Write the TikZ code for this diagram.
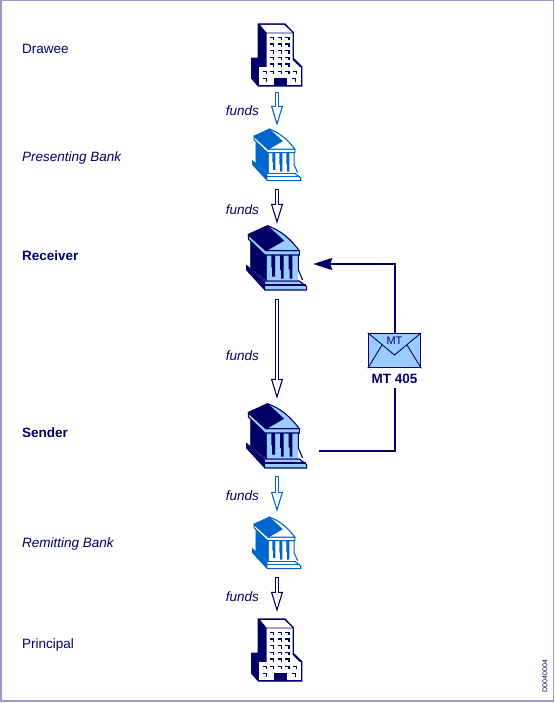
\documentclass[tikz,border=0pt]{standalone}
\usepackage{fontspec}
\setmainfont{Liberation Sans}
\usetikzlibrary{arrows.meta, positioning, calc}
\definecolor{navy}{RGB}{0,0,102}
\definecolor{bankblue}{RGB}{0,102,204}
\definecolor{paleblue}{RGB}{153,204,255}
\definecolor{framecol}{RGB}{153,153,204}
\tikzset{
  party/.style={anchor=west, text=navy, font=\fontsize{13.5}{15}\selectfont, inner sep=0pt},
  fundslabel/.style={anchor=east, text=navy, font=\fontsize{13.5}{15}\selectfont\itshape, inner sep=0pt},
  officebox/.style={minimum width=52pt, minimum height=64pt, inner sep=0pt},
  smallbox/.style={minimum width=50pt, minimum height=52pt, inner sep=0pt},
  largebox/.style={minimum width=84pt, minimum height=66pt, inner sep=0pt},
  msgline/.style={draw=navy, line width=2pt},
  funds/.style={line width=4.5pt, draw=#1, -{Triangle[open, fill=white, length=20pt, width=12pt, line width=1.1pt]},
    postaction={draw=white, line width=2.6pt, -, shorten <=1pt, shorten >=6pt}},
  pics/office/.style={code={
    \begin{scope}[scale=1/3, shift={(-141,-135)}]
      \filldraw[navy, line width=1.2pt] (85,42) -- (165,42) -- (190,68) -- (190,145) -- (215,170) -- (215,228) -- (85,228) -- (65,205) -- (65,145) -- (85,145) -- cycle;
      \fill[white] (91,45) -- (163,45) -- (187,68) -- (110,68) -- cycle;
      \fill[white] (110,70) -- (188,70) -- (188,150) -- (210,172) -- (110,172) -- cycle;
      \fill[white] (88,172) -- (212,172) -- (212,225) -- (88,225) -- cycle;
      \fill[navy] (133,205) rectangle (170,228);
      \foreach \yy in {82,102,122,142,162}
        \foreach \xx in {120,143,166}
          \draw[navy, line width=1.5pt] (\xx,\yy) -- +(11,0) -- +(11,9);
      \foreach \xx in {98,120,143,166,188}
        \draw[navy, line width=1.5pt] (\xx,184) -- +(11,0) -- +(11,9);
      \foreach \xx in {98,186}
        \draw[navy, line width=1.5pt] (\xx,206) -- +(11,0) -- +(11,9);
    \end{scope}
  }},
  pics/bank/.style n args={3}{code={
    \begin{scope}[scale=#3/3, shift={(-141,-234)}]
      \filldraw[fill=#1, draw=#1, line width=.8pt] (62,172) -- (110,222) -- (110,302) -- (62,264) -- cycle;
      \filldraw[fill=#2, draw=#1, line width=1.1pt] (50,257) -- (105,303) -- (208,303) -- (230,320) -- (230,330) -- (105,330) -- (50,270) -- cycle;
      \fill[#1] (50,259) -- (105,306) -- (105,330) -- (50,270) -- cycle;
      \draw[#1, line width=1.1pt] (105,315) -- (228,315);
      \fill[#2] (110,222) rectangle (205,300);
      \fill[#1] (124,225) rectangle (135,262) (126,262) rectangle (135,290);
      \fill[#1] (150,225) rectangle (161,270) (153,270) rectangle (161,296);
      \fill[#1] (176,225) rectangle (187,268) (179,268) rectangle (187,296);
      \draw[#1, line width=1.1pt] (205,225) -- (205,270) -- (218,300);
      \filldraw[fill=#2, draw=#1, line width=1.1pt] (55,165) -- (108,212) -- (208,212) -- (208,225) -- (105,225) -- (55,177) -- cycle;
      \filldraw[fill=#2, draw=#1, line width=1.1pt] (112,137) .. controls (150,150) and (180,175) .. (208,212) -- (108,212) -- cycle;
      \filldraw[fill=#1, draw=#1, line width=.9pt] (55,163) -- (112,137) -- (160,182) -- (108,212) -- cycle;
    \end{scope}
  }},
}
\begin{document}
\begin{tikzpicture}[x=1pt, y=-1pt]
  \useasboundingbox (0,0) rectangle (554,703);
  \draw[framecol, line width=1.5pt] (.75,.75) rectangle (553.25,701);

  % icons
  \node (drawee) [officebox] at (277,55) {};
  \node (presenting) [smallbox] at (277,155) {};
  \node (receiver) [largebox] at (277,258) {};
  \node (sender) [largebox] at (277,436) {};
  \node (remitting) [smallbox] at (277,543) {};
  \node (principal) [officebox] at (277,650) {};
  \pic at (drawee) {office};
  \pic at (presenting) {bank={bankblue}{white}{.8}};
  \pic at (receiver) {bank={navy}{paleblue}{1}};
  \pic at (sender) {bank={navy}{paleblue}{1}};
  \pic at (remitting) {bank={bankblue}{white}{.8}};
  \pic at (principal) {office};

  % left column
  \node (draweetext) [party] at (22,48.5) {Drawee};
  \node (presentingtext) [party, font=\fontsize{13.5}{15}\selectfont\itshape] at (22,158) {Presenting Bank};
  \node (receivertext) [party, font=\fontsize{13.5}{15}\selectfont\bfseries] at (22,256) {Receiver};
  \node (sendertext) [party, font=\fontsize{13.5}{15}\selectfont\bfseries] at (22,433) {Sender};
  \node (remittingtext) [party, font=\fontsize{13.5}{15}\selectfont\itshape] at (22,544.5) {Remitting Bank};
  \node (principaltext) [party] at (22,645.5) {Principal};

  % funds
  \draw [funds=bankblue] ([yshift=-5pt]drawee.south) -- ([yshift=3pt]presenting.north);
  \node (fundsa) [fundslabel] at (259,110.5) {funds};
  \draw [funds=navy] ([yshift=-8pt]presenting.south) -- ([yshift=1pt]receiver.north);
  \node (fundsb) [fundslabel] at (259,209.5) {funds};
  \draw [funds=navy] ([yshift=-8pt]receiver.south) -- ([yshift=4pt]sender.north);
  \node (fundsc) [fundslabel] at (259,355.5) {funds};
  \draw [funds=bankblue] ([yshift=-7pt]sender.south) -- ([yshift=5pt]remitting.north);
  \node (fundsd) [fundslabel] at (259,495.5) {funds};
  \draw [funds=navy] ([yshift=-8pt]remitting.south) -- ([yshift=6pt]principal.north);
  \node (fundse) [fundslabel] at (259,596.5) {funds};

  % message
  \node (envelope) [draw=navy, line width=1.5pt, fill=paleblue, minimum width=52pt, minimum height=34pt, inner sep=0pt] at (394.5,350.5) {};
  \draw[navy, line width=.9pt] (envelope.north west) -- (394.5,355) -- (envelope.north east);
  \draw[navy, line width=.9pt] (envelope.south west) -- (382,345);
  \draw[navy, line width=.9pt] (envelope.south east) -- (407,345);
  \node (mttext) [text=navy, font=\fontsize{11}{13}\selectfont, inner sep=0pt] at (394.5,341) {MT};
  \node (mtlabel) [text=navy, font=\fontsize{13.5}{15}\selectfont\bfseries, inner sep=0pt, below=6pt of envelope] {MT 405};
  \draw [msgline] ([yshift=-15pt]sender.east) -| ([yshift=-4pt]mtlabel.south);
  \draw [msgline, -{Stealth[length=19pt, width=12pt, inset=2pt]}] (envelope.north) |- ([xshift=-6pt,yshift=-6pt]receiver.east);

  \node (docid) [rotate=90, text=navy, font=\fontsize{7}{8}\selectfont, inner sep=0pt] at (545,676) {D0040004};
\end{tikzpicture}
\end{document}
